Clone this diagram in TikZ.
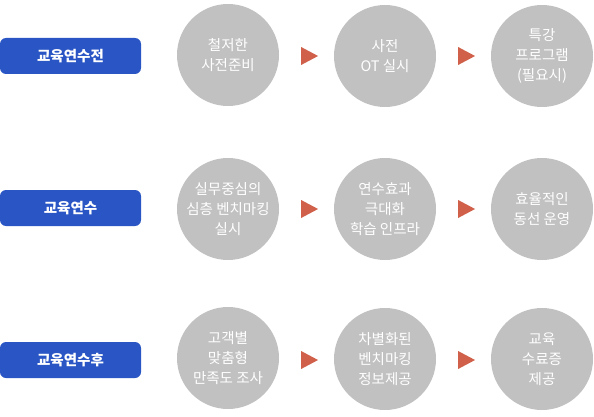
\documentclass[tikz,border=0pt]{standalone}
\usepackage{fontspec}
\setmainfont{Noto Sans CJK KR}
\usetikzlibrary{shapes.geometric}
\definecolor{btnblue}{HTML}{2A55C5}
\definecolor{circgray}{HTML}{C1C1C1}
\definecolor{arrred}{HTML}{D0604A}
\tikzset{
  stagebtn/.style={fill=btnblue, rounded corners=6pt, minimum width=141pt, minimum height=36pt, inner sep=0pt, text=white, font=\fontsize{14.5}{20}\selectfont\bfseries},
  stepcirc/.style={circle, fill=circgray, minimum size=102pt, inner sep=0pt, text=white, align=center, font=\fontsize{14.5}{20}\selectfont},
  steparrow/.style={isosceles triangle, isosceles triangle stretches, fill=arrred, minimum width=18pt, minimum height=17pt, inner sep=0pt}
}
\begin{document}
\begin{tikzpicture}[x=1pt,y=-1pt]
\useasboundingbox (0,0) rectangle (594,417);
% row 1
\node[stagebtn] (b1) at (70.5,56) {교육연수전};
\node[stepcirc] (c11) at (228,55) {철저한\\사전준비};
\node[stepcirc] (c12) at (385,56) {사전\\OT 실시};
\node[stepcirc] (c13) at (542,56) {특강\\프로그램\\(필요시)};
\node[steparrow] (a11) at (306.5,56) {};
\node[steparrow] (a12) at (463.5,56) {};
% row 2
\node[stagebtn] (b2) at (70.5,208) {교육연수};
\node[stepcirc] (c21) at (228,209) {실무중심의\\심층 벤치마킹\\실시};
\node[stepcirc] (c22) at (385,209) {연수효과\\극대화\\학습 인프라};
\node[stepcirc] (c23) at (542,209) {효율적인\\동선 운영};
\node[steparrow] (a21) at (306.5,209) {};
\node[steparrow] (a22) at (463.5,209) {};
% row 3
\node[stagebtn] (b3) at (70.5,360) {교육연수후};
\node[stepcirc] (c31) at (228,358) {고객별\\맞춤형\\만족도 조사};
\node[stepcirc] (c32) at (385,359) {차별화된\\벤치마킹\\정보제공};
\node[stepcirc] (c33) at (542,359) {교육\\수료증\\제공};
\node[steparrow] (a31) at (306.5,360) {};
\node[steparrow] (a32) at (463.5,360) {};
\end{tikzpicture}
\end{document}
